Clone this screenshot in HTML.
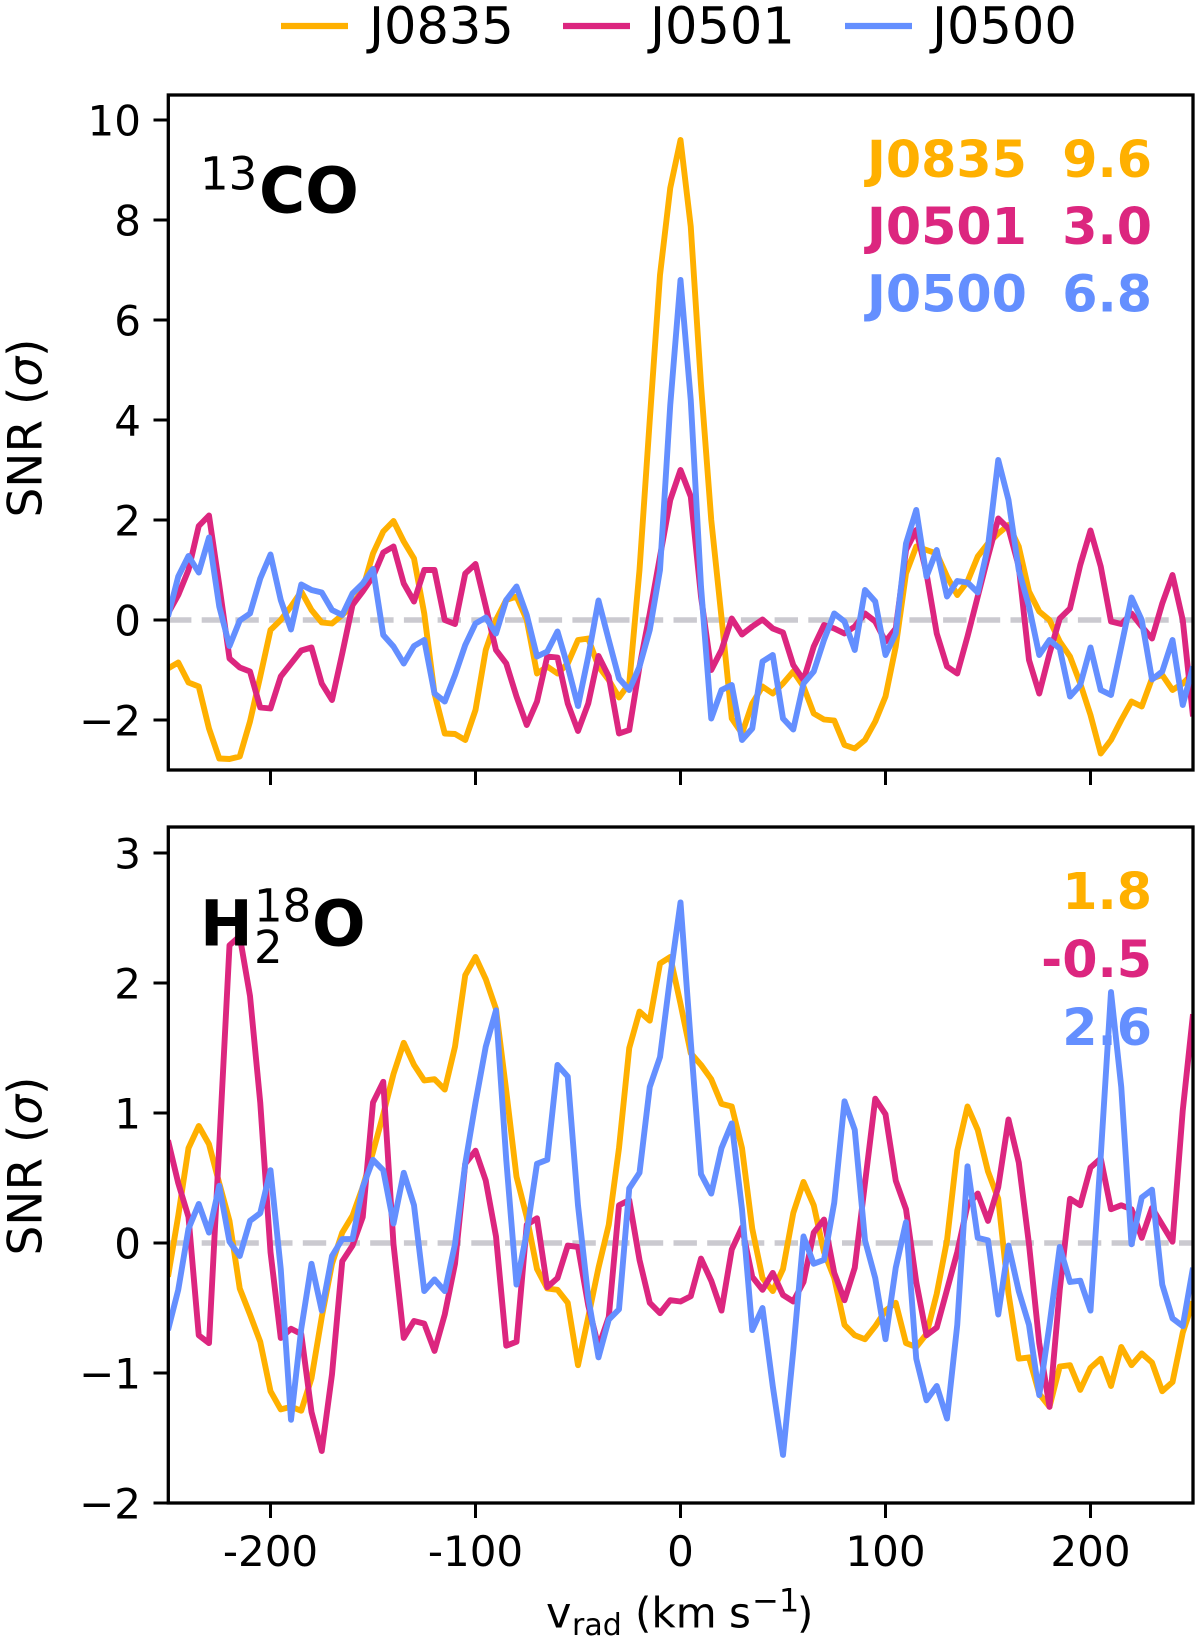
<!DOCTYPE html>
<html lang="en">
<head>
<meta charset="utf-8">
<title>SNR spectra</title>
<style>
  html,body{margin:0;padding:0;background:#fff;}
  svg{display:block;}
  text{font-family:"DejaVu Sans","Liberation Sans",sans-serif;fill:#000;}
  .b{font-weight:700;}
  .pre{white-space:pre;}
</style>
</head>
<body>
<svg id="figure" xmlns="http://www.w3.org/2000/svg" width="1200" height="1642" viewBox="0 0 1200 1642">
  <defs>
    <clipPath id="clip-top"><rect x="168" y="95" width="1025" height="675"/></clipPath>
    <clipPath id="clip-bottom"><rect x="168" y="827" width="1025" height="676"/></clipPath>
  </defs>
  <rect x="0" y="0" width="1200" height="1642" fill="#fff"/>

  <g>
    <g>
      <line x1="281" x2="348" y1="26" y2="26" stroke="#FFB000" stroke-width="6.2"/>
      <text x="369" y="43.5" font-size="51">J0835</text>
    </g>
    <g>
      <line x1="563" x2="630" y1="26" y2="26" stroke="#DC267F" stroke-width="6.2"/>
      <text x="650" y="43.5" font-size="51">J0501</text>
    </g>
    <g>
      <line x1="845" x2="912" y1="26" y2="26" stroke="#648FFF" stroke-width="6.2"/>
      <text x="932" y="43.5" font-size="51">J0500</text>
    </g>
  </g>

  <g>
    <text class="b pre" x="1152" y="177" text-anchor="end" font-size="50.7" style="fill:#FFB000">J0835  9.6</text>
    <text class="b pre" x="1152" y="244" text-anchor="end" font-size="50.7" style="fill:#DC267F">J0501  3.0</text>
    <text class="b pre" x="1152" y="311.5" text-anchor="end" font-size="50.7" style="fill:#648FFF">J0500  6.8</text>
  </g>
  <g>
    <text class="b" x="1152" y="909" text-anchor="end" font-size="50.7" style="fill:#FFB000">1.8</text>
    <text class="b" x="1152" y="977" text-anchor="end" font-size="50.7" style="fill:#DC267F">-0.5</text>
    <text class="b" x="1152" y="1045" text-anchor="end" font-size="50.7" style="fill:#648FFF">2.6</text>
  </g>

  <g id="plot-layer"></g>

  <g>
    <text x="200" y="189.5" font-size="45">13</text>
    <text class="b" x="259" y="212.5" font-size="63">CO</text>
  </g>
  <g>
    <text class="b" x="200" y="945.5" font-size="63">H</text>
    <text x="254" y="921.5" font-size="45">18</text>
    <text x="254" y="963" font-size="45">2</text>
    <text class="b" x="312" y="945.5" font-size="63">O</text>
  </g>

  <text transform="translate(41.5 428) rotate(-90)" text-anchor="middle" font-size="47">SNR (<tspan font-style="italic">σ</tspan>)</text>
  <text transform="translate(41.5 1166) rotate(-90)" text-anchor="middle" font-size="47">SNR (<tspan font-style="italic">σ</tspan>)</text>

  <g>
    <text x="546" y="1627.5" font-size="43">v</text>
    <text x="572" y="1635" font-size="30">rad</text>
    <text x="635" y="1627.5" font-size="42">(km</text>
    <text x="729" y="1627.5" font-size="42">s</text>
    <text x="752" y="1611.5" font-size="32">−1</text>
    <text x="797" y="1627.5" font-size="42">)</text>
  </g>
</svg>

<script>
const velocities = [-250,-245,-240,-235,-230,-225,-220,-215,-210,-205,
  -200,-195,-190,-185,-180,-175,-170,-165,-160,-155,
  -150,-145,-140,-135,-130,-125,-120,-115,-110,-105,
  -100,-95,-90,-85,-80,-75,-70,-65,-60,-55,
  -50,-45,-40,-35,-30,-25,-20,-15,-10,-5,
  0,5,10,15,20,25,30,35,40,45,
  50,55,60,65,70,75,80,85,90,95,
  100,105,110,115,120,125,130,135,140,145,
  150,155,160,165,170,175,180,185,190,195,
  200,205,210,215,220,225,230,235,240,245,250];

const xTickValues = [-200,-100,0,100,200];
const xTickLabels = ["-200","-100","0","100","200"];
const topYTickValues = [-2,0,2,4,6,8,10];
const topYTickLabels = ["−2","0","2","4","6","8","10"];
const bottomYTickValues = [-2,-1,0,1,2,3];
const bottomYTickLabels = ["−2","−1","0","1","2","3"];

const top13coJ0835 = [-0.97,-0.85,-1.25,-1.33,-2.17,-2.77,-2.78,-2.73,-2.03,-1.13,
  -0.2,0,0.27,0.57,0.2,-0.05,-0.07,0.1,0.3,0.62,
  1.33,1.77,1.98,1.57,1.23,0.13,-1.47,-2.27,-2.28,-2.4,
  -1.8,-0.6,0,0.4,0.47,0,-1.07,-0.93,-1.07,-0.87,
  -0.4,-0.37,-0.93,-1.2,-1.55,-1.27,1.0,4.0,6.9,8.64,
  9.6,7.87,4.7,2.0,0.05,-1.97,-2.27,-1.67,-1.33,-1.47,
  -1.27,-1.03,-1.33,-1.87,-1.99,-2.01,-2.5,-2.57,-2.4,-2.03,
  -1.53,-0.53,0.93,1.47,1.4,1.33,0.87,0.5,0.77,1.27,
  1.53,1.73,1.9,1.47,0.57,0.17,0,-0.43,-0.73,-1.27,
  -1.9,-2.67,-2.4,-2,-1.63,-1.73,-1.17,-1.1,-1.4,-1.27,-1.07];

const top13coJ0501 = [0.13,0.5,1,1.88,2.09,0.7,-0.77,-0.95,-1.03,-1.75,
  -1.77,-1.13,-0.87,-0.61,-0.55,-1.27,-1.6,-0.67,0.3,0.57,
  0.87,1.35,1.47,0.73,0.37,1,1,0,-0.08,0.93,
  1.12,0.27,-0.6,-0.87,-1.53,-2.1,-1.63,-0.73,-0.75,-1.67,
  -2.22,-1.67,-0.72,-1.13,-2.27,-2.2,-0.93,0.13,1.27,2.4,
  3,2.47,0.47,-1,-0.6,0.03,-0.29,-0.13,0.01,-0.17,
  -0.25,-0.9,-1.2,-0.53,-0.1,-0.17,-0.27,-0.13,0.13,-0.03,
  -0.43,-0.17,1.4,1.8,0.93,-0.27,-0.93,-1.07,-0.33,0.47,
  1.27,2.03,1.83,1.07,-0.8,-1.47,-0.67,0.03,0.23,1.1,
  1.79,1.07,-0.03,-0.08,0.13,-0.13,-0.37,0.33,0.9,0,-1.93];

const top13coJ0500 = [0.07,0.87,1.28,0.95,1.65,0.27,-0.52,-0.01,0.13,0.83,
  1.31,0.4,-0.19,0.71,0.6,0.55,0.2,0.1,0.53,0.73,
  1.02,-0.3,-0.53,-0.87,-0.52,-0.4,-1.47,-1.63,-1.1,-0.5,
  -0.07,0.05,-0.27,0.4,0.67,0.1,-0.73,-0.63,-0.23,-0.93,
  -1.72,-0.73,0.39,-0.4,-1.17,-1.4,-0.93,-0.2,1.0,4.3,
  6.8,4.4,0.67,-1.97,-1.4,-1.3,-2.4,-2.17,-0.83,-0.7,
  -1.97,-2.19,-1.27,-1.03,-0.4,0.13,-0.03,-0.6,0.6,0.37,
  -0.7,-0.27,1.53,2.2,0.87,1.4,0.47,0.78,0.75,0.55,
  1.47,3.2,2.4,1,0.27,-0.7,-0.4,-0.57,-1.53,-1.3,
  -0.55,-1.4,-1.5,-0.53,0.45,0,-1.19,-1.03,-0.4,-1.7,-0.93];

const bottomH2oJ0835 = [-0.26,0.21,0.73,0.9,0.76,0.46,0.17,-0.35,-0.55,-0.76,
  -1.14,-1.28,-1.26,-1.29,-1.04,-0.57,-0.16,0.08,0.21,0.43,
  0.7,0.99,1.3,1.54,1.37,1.25,1.26,1.18,1.51,2.06,
  2.2,2.03,1.8,1.17,0.51,0.2,-0.2,-0.35,-0.36,-0.46,
  -0.94,-0.57,-0.19,0.14,0.73,1.5,1.78,1.71,2.15,2.2,
  1.84,1.46,1.37,1.26,1.07,1.05,0.73,0.11,-0.27,-0.37,
  -0.2,0.23,0.47,0.29,-0.07,-0.27,-0.63,-0.71,-0.74,-0.64,
  -0.52,-0.46,-0.77,-0.8,-0.7,-0.39,0.02,0.71,1.05,0.87,
  0.55,0.34,-0.39,-0.89,-0.88,-1.16,-1.26,-0.95,-0.94,-1.13,
  -0.96,-0.89,-1.1,-0.8,-0.94,-0.85,-0.92,-1.14,-1.07,-0.69,-0.45];

const bottomH2oJ0501 = [0.79,0.46,0.2,-0.71,-0.77,0.75,2.29,2.36,1.9,1.08,
  -0.07,-0.73,-0.66,-0.7,-1.3,-1.6,-1.01,-0.14,-0.02,0.2,
  1.08,1.24,-0.01,-0.73,-0.6,-0.62,-0.83,-0.55,-0.16,0.61,
  0.71,0.48,0.05,-0.79,-0.76,0.14,0.19,-0.34,-0.27,-0.02,
  -0.03,-0.48,-0.8,-0.57,0.29,0.33,-0.13,-0.46,-0.54,-0.44,
  -0.45,-0.41,-0.12,-0.29,-0.52,-0.05,0.12,-0.26,-0.36,-0.23,
  -0.4,-0.45,-0.3,0.08,0.18,-0.23,-0.44,-0.19,0.46,1.11,
  0.99,0.48,0.26,-0.3,-0.71,-0.65,-0.36,-0.07,0.29,0.38,
  0.17,0.43,0.95,0.62,-0.01,-0.77,-1.26,-0.36,0.34,0.29,
  0.58,0.65,0.26,0.29,0.26,0.04,0.27,0.14,0.01,1.02,1.76];

const bottomH2oJ0500 = [-0.67,-0.36,0.11,0.3,0.08,0.44,0.01,-0.1,0.17,0.23,
  0.56,-0.2,-1.36,-0.66,-0.16,-0.52,-0.1,0.03,0.03,0.43,
  0.64,0.56,0.15,0.54,0.29,-0.37,-0.28,-0.37,-0.01,0.61,
  1.08,1.51,1.79,0.64,-0.32,0.08,0.61,0.64,1.37,1.28,
  0.29,-0.42,-0.88,-0.59,-0.51,0.42,0.54,1.2,1.43,2.05,
  2.62,1.55,0.53,0.38,0.73,0.92,0.26,-0.67,-0.5,-1.1,
  -1.63,-0.83,0.05,-0.16,-0.13,0.31,1.09,0.87,0.02,-0.27,
  -0.74,-0.19,0.16,-0.89,-1.21,-1.1,-1.35,-0.63,0.59,0.04,
  0.02,-0.55,-0.02,-0.37,-0.63,-1.17,-0.63,-0.03,-0.3,-0.29,
  -0.52,0.67,1.93,1.2,-0.01,0.35,0.41,-0.32,-0.58,-0.64,-0.19];

const NS = "http://www.w3.org/2000/svg";
const plotLayer = document.getElementById("plot-layer");
const SPINE_WIDTH = 3.3;
const TICK_LEN = 15;
const LINE_WIDTH = 5.9;

function xScale(v){ return 680.5 + 2.05 * v; }

function shape(parent, tag, attrs){
  const el = document.createElementNS(NS, tag);
  for (const k in attrs) el.setAttribute(k, attrs[k]);
  parent.appendChild(el);
  return el;
}

function drawPanel(cfg){
  const yScale = function(v){ return cfg.y0 - cfg.unit * v; };
  const g = shape(plotLayer, "g", {});
  
  

  const zero = shape(g, "line", {x1:168, x2:1193, y1:yScale(0), y2:yScale(0), stroke:"#cbcad0", "stroke-width":5.4, "stroke-dasharray":"23.4 10.3"});
  
  

  cfg.series.forEach(function(s){
    const pts = velocities.map(function(v, i){ return xScale(v).toFixed(2) + "," + yScale(s.values[i]).toFixed(2); }).join(" ");
    const line = shape(g, "polyline", {points:pts, fill:"none", stroke:s.color, "stroke-width":LINE_WIDTH, "stroke-linejoin":"round", "clip-path":"url(#" + cfg.clip + ")"});
    
    
  });

  const frame = shape(g, "rect", {x:168.3, y:cfg.top, width:1193 - 168.3, height:cfg.bottom - cfg.top, fill:"none", stroke:"#000", "stroke-width":SPINE_WIDTH, "stroke-linejoin":"miter"});
  
  

  xTickValues.forEach(function(v, i){
    const x = xScale(v);
    const t = shape(g, "line", {x1:x, x2:x, y1:cfg.bottom, y2:cfg.bottom + TICK_LEN, stroke:"#000", "stroke-width":3});
    
    
    if (cfg.showXLabels) {
      const lab = shape(g, "text", {x:x, y:1566, "text-anchor":"middle", "font-size":42});
      lab.textContent = xTickLabels[i];
      
      
    }
  });

  cfg.yTicks.forEach(function(v, i){
    const y = yScale(v);
    const t = shape(g, "line", {x1:153.5, x2:168.3, y1:y, y2:y, stroke:"#000", "stroke-width":3});
    
    
    const lab = shape(g, "text", {x:141, y:y + 15.5, "text-anchor":"end", "font-size":42});
    lab.textContent = cfg.yLabels[i];
    
    
  });
}

drawPanel({
  name:"top", clip:"clip-top", y0:620, unit:50, top:95, bottom:770, showXLabels:false,
  yTicks:topYTickValues, yLabels:topYTickLabels,
  series:[
    {id:"j0835", color:"#FFB000", values:top13coJ0835},
    {id:"j0501", color:"#DC267F", values:top13coJ0501},
    {id:"j0500", color:"#648FFF", values:top13coJ0500}
  ]
});
drawPanel({
  name:"bottom", clip:"clip-bottom", y0:1243, unit:130, top:827, bottom:1503, showXLabels:true,
  yTicks:bottomYTickValues, yLabels:bottomYTickLabels,
  series:[
    {id:"j0835", color:"#FFB000", values:bottomH2oJ0835},
    {id:"j0501", color:"#DC267F", values:bottomH2oJ0501},
    {id:"j0500", color:"#648FFF", values:bottomH2oJ0500}
  ]
});
</script>
</body>
</html>
